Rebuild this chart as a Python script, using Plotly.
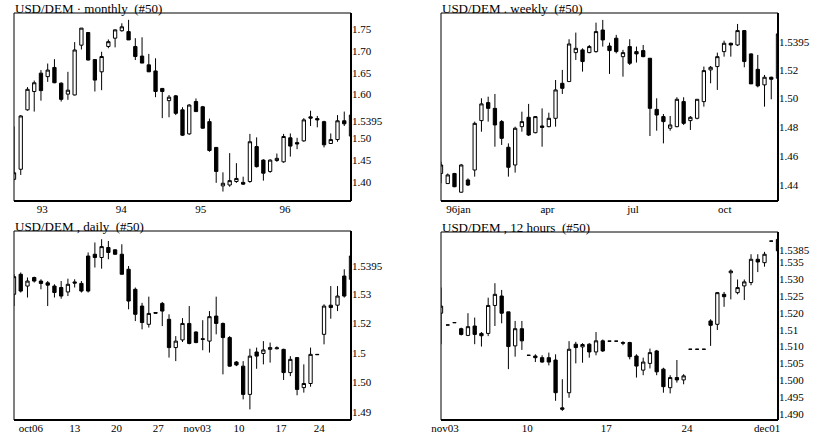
import plotly.graph_objects as go

# ---------------- monthly ----------------
m_open = [1.406,1.429,1.565,1.607,1.649,1.641,1.662,1.626,1.601,1.599,1.713,1.742,1.680,1.652,1.710,1.729,1.746,1.744,1.710,1.688,
          1.668,1.654,1.614,1.586,1.597,1.565,1.510,1.584,1.572,1.538,1.479,1.391,1.393,1.401,1.399,1.401,1.481,1.450,1.424,1.449,
          1.446,1.501,1.490,1.494,1.549,1.545,1.538,1.488,1.497,1.540,1.505]
m_high = [1.527,1.553,1.617,1.632,1.656,1.671,1.681,1.628,1.652,1.720,1.752,1.743,1.681,1.698,1.726,1.749,1.763,1.771,1.729,1.731,
          1.693,1.683,1.615,1.599,1.599,1.571,1.578,1.591,1.574,1.545,1.480,1.422,1.466,1.443,1.412,1.510,1.502,1.452,1.452,1.465,
          1.510,1.511,1.501,1.546,1.563,1.551,1.540,1.511,1.553,1.561,1.558]
m_low = [1.404,1.416,1.563,1.561,1.586,1.629,1.626,1.584,1.588,1.598,1.703,1.678,1.607,1.610,1.706,1.708,1.744,1.725,1.679,1.672,
         1.652,1.594,1.546,1.548,1.553,1.505,1.508,1.561,1.522,1.469,1.398,1.378,1.389,1.398,1.393,1.398,1.433,1.403,1.421,1.446,
         1.444,1.458,1.475,1.492,1.528,1.525,1.479,1.487,1.492,1.528,1.503]
m_close = [1.421,1.551,1.612,1.627,1.609,1.656,1.627,1.589,1.610,1.702,1.752,1.679,1.633,1.687,1.721,1.748,1.755,1.725,1.687,1.672,
           1.652,1.607,1.607,1.594,1.557,1.507,1.576,1.561,1.523,1.472,1.424,1.397,1.403,1.408,1.395,1.492,1.435,1.420,1.450,1.454,
           1.504,1.482,1.487,1.542,1.546,1.542,1.485,1.497,1.540,1.533,1.553]
m_xtick_pos = [4.2, 15.9, 27.7, 40.2]
m_xtick_txt = ["93", "94", "95", "96"]
m_ytick_val = [1.40, 1.45, 1.50, 1.5395, 1.60, 1.65, 1.70, 1.75]
m_ytick_txt = ["1.40", "1.45", "1.50", "1.5395", "1.60", "1.65", "1.70", "1.75"]
m_yrange = [1.3564, 1.7866]

# ---------------- weekly ----------------
w_open = [1.448,1.441,1.448,1.435,1.4435,1.4504,1.4847,1.4972,1.4932,1.4840,1.4662,1.4539,1.4805,1.4870,1.4763,1.4810,1.4805,1.4863,1.5106,1.5118,
          1.5319,1.5338,1.5319,1.5326,1.5476,1.5365,1.5419,1.5291,1.5361,1.5326,1.5333,1.5280,1.4925,1.4875,1.4794,1.4805,1.4979,1.4847,1.4863,1.4979,
          1.5199,1.5222,1.5326,1.5384,1.5372,1.5472,1.5310,1.5203,1.5095,1.5148,1.5141]
w_high = [1.4562,1.448,1.4484,1.4546,1.4446,1.4840,1.5002,1.5013,1.5032,1.4851,1.4689,1.4805,1.4909,1.4963,1.4879,1.4932,1.4902,1.5129,1.5199,1.5412,
          1.5458,1.5349,1.5372,1.5527,1.5546,1.5388,1.5442,1.5338,1.5412,1.5361,1.5372,1.5280,1.5002,1.4893,1.4879,1.5009,1.5009,1.4879,1.4995,1.5222,
          1.5226,1.5319,1.5402,1.5388,1.5518,1.5476,1.5314,1.5303,1.5164,1.5152,1.5453]
w_low = [1.4412,1.4407,1.4385,1.4347,1.4393,1.4458,1.4770,1.4840,1.4666,1.4678,1.4458,1.4486,1.4770,1.4740,1.4759,1.4666,1.4801,1.4805,1.5032,1.5118,
         1.5268,1.5187,1.5315,1.5319,1.5361,1.5171,1.5314,1.5152,1.5233,1.5250,1.5287,1.4740,1.4777,1.4689,1.4777,1.4801,1.4817,1.4782,1.4856,1.4944,
         1.5106,1.5060,1.5291,1.5291,1.5365,1.5217,1.5102,1.5078,1.4944,1.4995,1.5129]
w_close = [1.4539,1.447,1.4388,1.4539,1.4400,1.4828,1.4963,1.4932,1.4817,1.4724,1.4523,1.4794,1.4840,1.4747,1.4875,1.4800,1.4863,1.5060,1.5071,1.5379,
           1.5349,1.5257,1.5361,1.5465,1.5407,1.5333,1.5326,1.5319,1.5245,1.5310,1.5291,1.4932,1.4886,1.4840,1.4817,1.4995,1.4828,1.4870,1.4995,1.5194,
           1.5217,1.5291,1.5384,1.5372,1.5472,1.5257,1.5102,1.5088,1.5148,1.5134,1.5449]
w_xtick_pos = [2.6, 15.8, 28.5, 42.1]
w_xtick_txt = ["96jan", "apr", "jul", "oct"]
w_ytick_val = [1.44, 1.46, 1.48, 1.50, 1.52, 1.5395]
w_ytick_txt = ["1.44", "1.46", "1.48", "1.50", "1.52", "1.5395"]
w_yrange = [1.4289, 1.5594]

# ---------------- daily ----------------
d_open = [1.5299,1.5367,1.5327,1.5356,1.5344,1.5338,1.5327,1.5322,1.5307,1.5341,1.5336,1.5429,1.5435,1.5424,1.5458,1.5450,1.5435,1.5384,1.5316,1.5259,
          1.5197,1.5237,1.5268,1.5214,1.5118,1.5144,1.5200,1.5171,1.5148,1.5140,1.5225,1.5200,1.5152,1.5069,1.5055,1.4959,1.5103,1.5098,1.5112,1.5114,
          1.5112,1.5033,1.5084,1.4982,1.4996,1.5095,1.5163,1.5262,1.5262,1.5361,1.5350]
d_high = [1.5367,1.5373,1.5356,1.5359,1.5350,1.5344,1.5333,1.5344,1.5352,1.5350,1.5344,1.5441,1.5475,1.5486,1.5480,1.5452,1.5469,1.5395,1.5322,1.5270,
          1.5291,1.5237,1.5273,1.5231,1.5157,1.5218,1.5259,1.5173,1.5211,1.5242,1.5291,1.5203,1.5157,1.5072,1.5072,1.5114,1.5118,1.5140,1.5135,1.5122,
          1.5114,1.5089,1.5084,1.5061,1.5118,1.5095,1.5265,1.5327,1.5327,1.5384,1.5435]
d_low = [1.5259,1.5305,1.5288,1.5339,1.5316,1.5259,1.5288,1.5284,1.5293,1.5322,1.5305,1.5305,1.5390,1.5386,1.5418,1.5433,1.5367,1.5248,1.5208,1.5180,
         1.5186,1.5235,1.5191,1.5084,1.5072,1.5137,1.5129,1.5133,1.5109,1.5101,1.5163,1.5027,1.5053,1.5055,1.4942,1.4908,1.5046,1.5061,1.5067,1.5112,
         1.5008,1.5021,1.4956,1.4965,1.4985,1.5094,1.5129,1.5216,1.5242,1.5288,1.5344]
d_close = [1.5359,1.5310,1.5344,1.5344,1.5336,1.5330,1.5305,1.5293,1.5333,1.5337,1.5310,1.5310,1.5424,1.5461,1.5441,1.5435,1.5367,1.5276,1.5231,1.5203,
           1.5234,1.5235,1.5242,1.5118,1.5140,1.5200,1.5132,1.5135,1.5146,1.5223,1.5200,1.5152,1.5055,1.5059,1.4959,1.5089,1.5089,1.5110,1.5118,1.5117,
           1.5033,1.5078,1.4976,1.4996,1.5095,1.5094,1.5259,1.5254,1.5293,1.5293,1.5429]
d_xtick_pos = [2.5, 9.0, 15.2, 21.4, 27.2, 33.4, 39.6, 45.3]
d_xtick_txt = ["oct06", "13", "20", "27", "nov03", "10", "17", "24"]
d_ytick_val = [1.49, 1.50, 1.51, 1.52, 1.53, 1.5395]
d_ytick_txt = ["1.49", "1.50", "1.5", "1.52", "1.53", "1.5395"]
d_yrange = [1.4872, 1.5514]

# ---------------- 12 hours ----------------
h_open = [1.5199,1.5164,1.5171,1.5153,1.5133,1.5161,1.5139,1.5139,1.5222,1.5250,1.5203,1.5102,1.5153,1.5074,1.5072,1.5067,1.5067,1.5060,1.4918,1.4963,
          1.5107,1.5099,1.5107,1.5084,1.5117,1.5116,1.5116,1.5112,1.5112,1.5072,1.5030,1.5050,1.5087,1.5033,1.4978,1.5008,1.5001,1.5092,1.5092,1.5092,
          1.5176,1.5166,1.5255,1.5319,1.5260,1.5280,1.5290,1.5359,1.5349,1.5413,1.5418]
h_high = [1.5275,1.5164,1.5171,1.5156,1.5199,1.5186,1.5143,1.5245,1.5288,1.5268,1.5203,1.5176,1.5176,1.5074,1.5077,1.5074,1.5082,1.5077,1.5003,1.5116,
          1.5114,1.5110,1.5110,1.5143,1.5121,1.5116,1.5116,1.5116,1.5114,1.5077,1.5067,1.5094,1.5090,1.5037,1.5015,1.5060,1.5018,1.5092,1.5092,1.5092,
          1.5181,1.5262,1.5262,1.5329,1.5299,1.5299,1.5374,1.5374,1.5381,1.5413,1.5420]
h_low = [1.5107,1.5164,1.5171,1.5133,1.5131,1.5107,1.5100,1.5131,1.5161,1.5169,1.5033,1.5070,1.5090,1.5074,1.5054,1.5052,1.5044,1.4939,1.4909,1.4948,
         1.5050,1.5052,1.5067,1.5074,1.5084,1.5116,1.5116,1.5104,1.5062,1.5008,1.5015,1.5035,1.5015,1.4963,1.4961,1.4993,1.4988,1.5092,1.5092,1.5092,
         1.5102,1.5149,1.5218,1.5240,1.5255,1.5238,1.5282,1.5321,1.5337,1.5413,1.5381]
h_close = [1.5220,1.5164,1.5171,1.5136,1.5159,1.5136,1.5132,1.5222,1.5255,1.5199,1.5100,1.5153,1.5117,1.5074,1.5067,1.5054,1.5054,1.4963,1.4914,1.5092,
           1.5097,1.5106,1.5084,1.5117,1.5087,1.5116,1.5116,1.5110,1.5070,1.5042,1.5054,1.5082,1.5025,1.4981,1.5008,1.5001,1.5013,1.5092,1.5092,1.5092,
           1.5163,1.5260,1.5248,1.5324,1.5275,1.5292,1.5359,1.5351,1.5374,1.5413,1.5384]
h_xtick_pos = [0.6, 12.8, 24.5, 36.5, 48.4]
h_xtick_txt = ["nov03", "10", "17", "24", "dec01"]
h_ytick_val = [1.490, 1.495, 1.500, 1.505, 1.510, 1.515, 1.520, 1.525, 1.530, 1.535, 1.5385]
h_ytick_txt = ["1.490", "1.495", "1.500", "1.505", "1.510", "1.51", "1.520", "1.525", "1.530", "1.535", "1.5385"]
h_yrange = [1.4882, 1.5440]

titles = ["USD/DEM \u00b7 monthly\u00a0\u00a0(#50)", "USD/DEM . weekly\u00a0\u00a0(#50)",
          "USD/DEM , daily\u00a0\u00a0(#50)", "USD/DEM , 12 hours\u00a0\u00a0(#50)"]

W, H = 822, 437
# panel boxes in pixels: (left, right, top, bottom)
boxes = [(14, 351, 13, 201), (441, 778, 13, 201), (14, 351, 231, 420), (441, 778, 232, 420)]

panels = [
    (m_open, m_high, m_low, m_close, m_xtick_pos, m_xtick_txt, m_ytick_val, m_ytick_txt, m_yrange),
    (w_open, w_high, w_low, w_close, w_xtick_pos, w_xtick_txt, w_ytick_val, w_ytick_txt, w_yrange),
    (d_open, d_high, d_low, d_close, d_xtick_pos, d_xtick_txt, d_ytick_val, d_ytick_txt, d_yrange),
    (h_open, h_high, h_low, h_close, h_xtick_pos, h_xtick_txt, h_ytick_val, h_ytick_txt, h_yrange),
]

FONT = "Liberation Serif"
fig = go.Figure()
layout = dict(width=W, height=H, margin=dict(l=0, r=0, t=0, b=0), autosize=False,
              paper_bgcolor="white", plot_bgcolor="white", showlegend=False,
              font=dict(family=FONT, size=11, color="black"))
shapes = []
annotations = []

for i, (o, hi, lo, c, xtp, xtt, ytv, ytt, yr) in enumerate(panels):
    n = i + 1
    xa = "x" if n == 1 else f"x{n}"
    ya = "y" if n == 1 else f"y{n}"
    xs = list(range(len(o)))
    fig.add_trace(go.Candlestick(
        x=xs, open=o, high=hi, low=lo, close=c, xaxis=xa, yaxis=ya,
        increasing=dict(line=dict(color="black", width=1), fillcolor="white"),
        decreasing=dict(line=dict(color="black", width=1), fillcolor="black"),
        whiskerwidth=0, hoverinfo="skip", showlegend=False))
    l, r, t, b = boxes[i]
    xdom = [l / W, r / W]
    ydom = [1 - b / H, 1 - t / H]
    layout["xaxis" if n == 1 else f"xaxis{n}"] = dict(
        domain=xdom, range=[0, len(o) - 1], anchor=ya, showgrid=False, zeroline=False,
        showline=False, ticks="", ticklen=0, tickmode="array", tickvals=xtp, ticktext=xtt,
        automargin=False,
        tickfont=dict(family=FONT, size=11, color="black"), rangeslider=dict(visible=False),
        fixedrange=True)
    layout["yaxis" if n == 1 else f"yaxis{n}"] = dict(
        domain=ydom, range=yr, anchor=xa, side="right", showgrid=False, zeroline=False,
        showline=False, ticks="", ticklen=0, tickmode="array", tickvals=ytv, ticktext=ytt,
        automargin=False,
        tickfont=dict(family=FONT, size=11, color="black"), fixedrange=True)
    xd, yd = f"{xa} domain", f"{ya} domain"
    for (x0, y0, x1, y1, w) in [(0, 0, 1, 0, 2), (0, 1, 1, 1, 1), (0, 0, 0, 1, 1), (1, 0, 1, 1, 2)]:
        shapes.append(dict(type="line", xref=xd, yref=yd, x0=x0, y0=y0, x1=x1, y1=y1,
                           line=dict(color="black", width=w)))
    annotations.append(dict(text=titles[i], xref="paper", yref="paper", x=l / W, y=1 - (t - 5) / H,
                            xanchor="left", yanchor="middle", showarrow=False, borderpad=0,
                            font=dict(family=FONT, size=13, color="black")))

layout["shapes"] = shapes
layout["annotations"] = annotations
fig.update_layout(**layout)
fig.write_html("out.html", config={"displayModeBar": False, "responsive": False},
               post_script="document.body.style.margin='0';document.body.style.padding='0';"
                           "document.body.style.overflow='hidden';")
